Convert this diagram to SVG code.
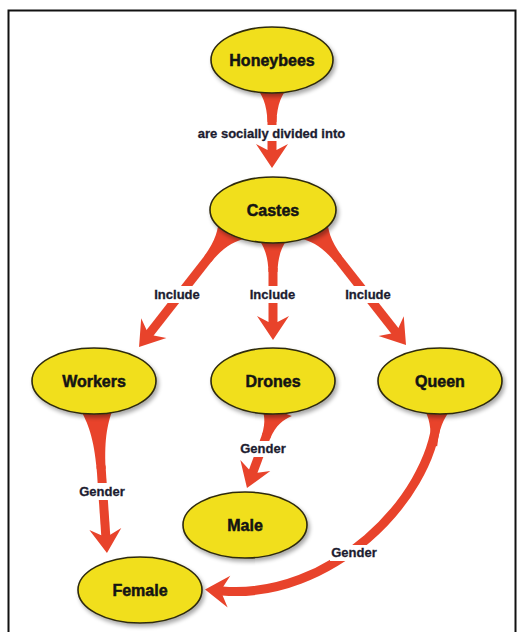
<svg xmlns="http://www.w3.org/2000/svg" xmlns:xlink="http://www.w3.org/1999/xlink" width="517" height="632" viewBox="0 0 517 632">
<style>
.node ellipse{fill:#F1DF1D;stroke:#2e2a0c;stroke-width:1.6;filter:url(#sh)}
.node text{font-family:"Liberation Sans",Arial,sans-serif;font-weight:bold;font-size:16px;fill:#141414;stroke:#141414;stroke-width:0.5;text-anchor:middle}
.fun{fill:#E8432B}
.ln{fill:none;stroke:#E8432B;stroke-width:9;marker-end:url(#ah)}
.lb rect{fill:#ffffff}
.lb text{font-family:"Liberation Sans",Arial,sans-serif;font-weight:bold;font-size:13px;fill:#1c1c30;stroke:#1c1c30;stroke-width:0.3;text-anchor:middle}
</style>
<defs>
<filter id="sh" x="-20%" y="-20%" width="150%" height="160%">
<feGaussianBlur in="SourceAlpha" stdDeviation="2"/>
<feOffset dx="2" dy="3" result="o"/>
<feComponentTransfer><feFuncA type="linear" slope="0.35"/></feComponentTransfer>
<feMerge><feMergeNode/><feMergeNode in="SourceGraphic"/></feMerge>
</filter>
<marker id="ah" markerUnits="userSpaceOnUse" viewBox="-10 -18 30 36" markerWidth="30" markerHeight="36" refX="0" refY="0" orient="auto" overflow="visible">
<path d="M-1,-4.5 L-7,-16 L17,0 L-7,16 L-1,4.5 Z" fill="#E8432B"/>
</marker>
<path id="fun" d="M0,-17 C8,-10 18,-5 36,-4.5 L36,4.5 C18,5 8,10 0,17 Z"/>
</defs>
<rect x="8.5" y="10.5" width="507" height="640" fill="#ffffff" stroke="#111111" stroke-width="2"/>

<g id="connectors">
<g id="c1">
<use xlink:href="#fun" class="fun" transform="translate(272,86) rotate(90)"/>
<path class="ln" d="M272,116 L272,151"/>
</g>
<g id="c2">
<use xlink:href="#fun" class="fun" transform="translate(232,228) rotate(128) scale(1.1,1)"/>
<path class="ln" d="M209.8,256.4 L149.5,333.6"/>
</g>
<g id="c3">
<use xlink:href="#fun" class="fun" transform="translate(273,236) rotate(90)"/>
<path class="ln" d="M273,268 L273,323"/>
</g>
<g id="c4">
<use xlink:href="#fun" class="fun" transform="translate(314,228) rotate(51.8) scale(1.1,1)"/>
<path class="ln" d="M336.3,256.3 L395.5,331.6"/>
</g>
<g id="c5">
<use xlink:href="#fun" class="fun" transform="translate(97,408) rotate(86.05) scale(1.7,1)"/>
<path class="ln" d="M101,465.9 L105.8,536"/>
</g>
<g id="c6">
<use xlink:href="#fun" class="fun" transform="translate(276,410) rotate(110.4) scale(0.8,1)"/>
<path class="ln" d="M266.9,434.4 L252.9,472.1"/>
</g>
<g id="c7">
<use xlink:href="#fun" class="fun" transform="translate(437,410) rotate(95) scale(1,0.75)"/>
<path class="ln" d="M437,418 C430,500 330,600 222,591"/>
</g>
<g id="labels" class="lb">
<rect x="194" y="125" width="156" height="16"/>
<text x="271.5" y="137.5">are socially divided into</text>
<rect x="153" y="286" width="48" height="17"/>
<text x="177" y="298.5">Include</text>
<rect x="249" y="286" width="48" height="17"/>
<text x="272.5" y="298.5">Include</text>
<rect x="344" y="286" width="48" height="17"/>
<text x="368" y="298.5">Include</text>
<rect x="78" y="483" width="48" height="17"/>
<text x="102" y="495.5">Gender</text>
<rect x="239" y="441" width="48" height="16"/>
<text x="263" y="453">Gender</text>
<rect x="330" y="545" width="48" height="16"/>
<text x="354" y="557">Gender</text>
</g>
</g>

<g id="honeybees" class="node"><ellipse cx="272" cy="60" rx="61" ry="33"/><text x="272" y="65.5">Honeybees</text></g>
<g id="castes" class="node"><ellipse cx="273" cy="210" rx="63" ry="33"/><text x="273" y="215.5">Castes</text></g>
<g id="workers" class="node"><ellipse cx="94" cy="381" rx="62" ry="33"/><text x="94" y="386.5">Workers</text></g>
<g id="drones" class="node"><ellipse cx="273" cy="381" rx="62" ry="33"/><text x="273" y="386.5">Drones</text></g>
<g id="queen" class="node"><ellipse cx="440" cy="381" rx="62" ry="33"/><text x="440" y="386.5">Queen</text></g>
<g id="male" class="node"><ellipse cx="245" cy="525" rx="62" ry="33"/><text x="245" y="530.5">Male</text></g>
<g id="female" class="node"><ellipse cx="140" cy="590" rx="62" ry="33"/><text x="140" y="595.5">Female</text></g>
</svg>
